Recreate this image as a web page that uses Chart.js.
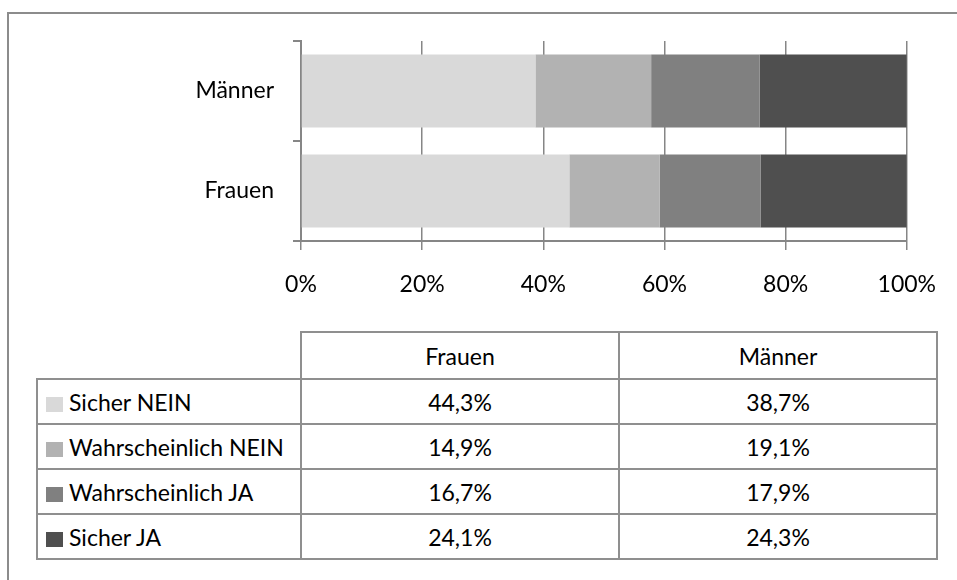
<!DOCTYPE html>
<html>
<head>
<meta charset="utf-8">
<script src="https://cdn.jsdelivr.net/npm/chart.js@4/dist/chart.umd.min.js"></script>
<style>
  html, body { margin: 0; padding: 0; background: #fff; }
  body { width: 957px; height: 580px; position: relative; overflow: hidden; font-family: Lato, "Liberation Sans", sans-serif; }
  #frame { position: absolute; left: 7px; top: 12px; width: 1000px; height: 700px; border-top: 2px solid #8c8c8c; border-left: 2px solid #8c8c8c; }
  #chartBox { position: absolute; left: 0; top: 0; width: 957px; height: 300px; }
  #dataTable { position: absolute; left: 36px; top: 331px; border-collapse: collapse; font-size: 23px; color: #000; }
  #dataTable td { border: 2px solid #8f8f8f; height: 43px; padding: 0; text-align: center; }
  #dataTable tr.head td { height: 45px; }
  #dataTable tr.head td.blank { border: none; border-right: 2px solid #8f8f8f; }
  #dataTable td.label { text-align: left; width: 262px; white-space: nowrap; }
  #dataTable td.col { width: 316px; }
  .swatch { display: inline-block; width: 17px; height: 15px; margin: 0 6px 0 8px; vertical-align: -1px; }
</style>
</head>
<body>
<div id="frame"></div>
<div id="chartBox"><canvas id="barChart" width="957" height="300"></canvas></div>
<table id="dataTable"></table>
<script>
const categories = ['Frauen', 'Männer'];
const seriesNames = ['Sicher NEIN', 'Wahrscheinlich NEIN', 'Wahrscheinlich JA', 'Sicher JA'];
const sicherNein = [44.3, 38.7];
const wahrscheinlichNein = [14.9, 19.1];
const wahrscheinlichJa = [16.7, 17.9];
const sicherJa = [24.1, 24.3];
const xTicks = [0, 20, 40, 60, 80, 100];

const seriesValues = [sicherNein, wahrscheinlichNein, wahrscheinlichJa, sicherJa];
const colors = ['#d9d9d9', '#b2b2b2', '#808080', '#4f4f4f'];
const gridColor = '#868686';
const fontFamily = 'Lato, "Liberation Sans", sans-serif';

const datasets = seriesNames.map((name, i) => ({
  label: name,
  data: seriesValues[i],
  backgroundColor: colors[i],
  borderWidth: 0,
  categoryPercentage: 1,
  barPercentage: 0.73,
}));

new Chart(document.getElementById('barChart').getContext('2d'), {
  type: 'bar',
  data: { labels: categories, datasets },
  options: {
    indexAxis: 'y',
    responsive: false,
    animation: false,
    layout: { padding: { top: 41, right: 49, left: 0, bottom: 0 } },
    plugins: { legend: { display: false }, tooltip: { enabled: false } },
    scales: {
      x: {
        stacked: true,
        min: 0,
        max: 100,
        afterBuildTicks: (scale) => { scale.ticks = xTicks.map((v) => ({ value: v })); },
        afterFit: (scale) => { scale.height = 59; },
        grid: { color: gridColor, lineWidth: 1.5, tickLength: 9 },
        border: { color: gridColor, width: 2 },
        ticks: {
          color: '#000',
          padding: 21,
          maxRotation: 0,
          font: { family: fontFamily, size: 23 },
          callback: (v) => v + '%',
        },
      },
      y: {
        stacked: true,
        reverse: true,
        afterFit: (scale) => { scale.width = 301; },
        grid: { drawOnChartArea: false, color: gridColor, lineWidth: 2, tickLength: 8 },
        border: { color: gridColor, width: 2 },
        ticks: { color: '#000', padding: 19, font: { family: fontFamily, size: 23 } },
      },
    },
  },
});

// data table under the chart
const table = document.getElementById('dataTable');
let html = '<tr class="head"><td class="label blank"></td>';
categories.forEach((c) => { html += `<td class="col">${c}</td>`; });
html += '</tr>';
seriesNames.forEach((name, i) => {
  html += `<tr><td class="label"><span class="swatch" style="background:${colors[i]}"></span>${name}</td>`;
  seriesValues[i].forEach((v) => { html += `<td class="col">${v.toFixed(1).replace('.', ',')}%</td>`; });
  html += '</tr>';
});
table.innerHTML = html;
</script>
</body>
</html>
